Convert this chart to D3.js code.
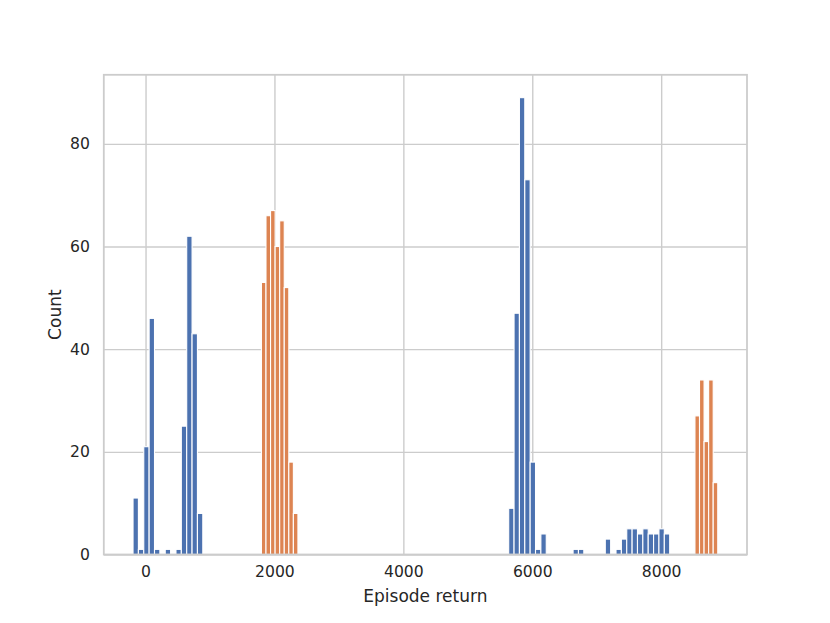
<!DOCTYPE html>
<html>
<head>
<meta charset="utf-8">
<script src="https://cdn.jsdelivr.net/npm/d3@7"></script>
<style>
  body { margin: 0; background: #fff; }
  text { font-family: "DejaVu Sans", sans-serif; fill: #262626; }
</style>
</head>
<body>
<div id="chart"></div>
<script>
// histogram data, 100 bins per series
var binTotal = 100;

var blueMin = -194, blueMax = 8132;
var blueBinIndex = [0, 1, 2, 3, 4, 6, 8, 9, 10, 11, 12,
    70, 71, 72, 73, 74, 75, 76, 82, 83,
    88, 90, 91, 92, 93, 94, 95, 96, 97, 98, 99];
var blueCounts = [11, 1, 21, 46, 1, 1, 1, 25, 62, 43, 8,
    9, 47, 89, 73, 18, 1, 4, 1, 1,
    3, 1, 3, 5, 5, 4, 5, 4, 4, 5, 4];

var orangeMin = 1798, orangeMax = 8878;
var orangeBinIndex = [0, 1, 2, 3, 4, 5, 6, 7, 95, 96, 97, 98, 99];
var orangeCounts = [53, 66, 67, 60, 65, 52, 18, 8, 27, 34, 22, 34, 14];

var xTicks = [0, 2000, 4000, 6000, 8000];
var yTicks = [0, 20, 40, 60, 80];

var xLabel = "Episode return";
var yLabel = "Count";

var svgWidth = 830;
var svgHeight = 623;

var margin = {
    top: 74.8,
    right: 83,
    bottom: 68.5,
    left: 103.8
};

var chartWidth = svgWidth - margin.left - margin.right;
var chartHeight = svgHeight - margin.top - margin.bottom;

var svg = d3.select("#chart")
    .append("svg")
    .attr("width", svgWidth)
    .attr("height", svgHeight);

var chartGroup = svg.append("g")
    .attr("transform", `translate(${margin.left},${margin.top})`);

function makeSeries(min, max, idx, counts) {
    var w = (max - min) / binTotal;
    return idx.map(function(i, k) {
        return {x0: min + i * w, x1: min + (i + 1) * w, count: counts[k]};
    });
}

var blueData = makeSeries(blueMin, blueMax, blueBinIndex, blueCounts);
var orangeData = makeSeries(orangeMin, orangeMax, orangeBinIndex, orangeCounts);

// matplotlib style 5% padding on x, 5% headroom on y
var lo = Math.min(blueMin, orangeMin), hi = Math.max(blueMax, orangeMax);
var pad = (hi - lo) * 0.05;
var yMax = d3.max(blueCounts.concat(orangeCounts)) * 1.05;

var xLinearScale = d3.scaleLinear()
    .domain([lo - pad, hi + pad])
    .range([0, chartWidth]);

var yLinearScale = d3.scaleLinear()
    .domain([0, yMax])
    .range([chartHeight, 0]);

// grid
var bottomAxis = d3.axisBottom(xLinearScale)
    .tickValues(xTicks)
    .tickFormat(d3.format("d"))
    .tickSize(-chartHeight)
    .tickPadding(11);
var leftAxis = d3.axisLeft(yLinearScale)
    .tickValues(yTicks)
    .tickFormat(d3.format("d"))
    .tickSize(-chartWidth)
    .tickPadding(14);

var xAxis = chartGroup.append("g")
    .attr("transform", `translate(0, ${chartHeight})`)
    .call(bottomAxis);
var yAxis = chartGroup.append("g")
    .call(leftAxis);

[xAxis, yAxis].forEach(function(ax) {
    ax.select(".domain").remove();
    ax.selectAll(".tick line")
        .attr("stroke", "#cccccc")
        .attr("stroke-width", 1.4);
    ax.selectAll(".tick text")
        .style("font-size", "15.6px")
        .attr("fill", "#262626");
});

function drawBars(data, color) {
    chartGroup.append("g")
        .selectAll("rect")
        .data(data)
        .enter()
        .append("rect")
        .attr("x", d => xLinearScale(d.x0))
        .attr("width", d => xLinearScale(d.x1) - xLinearScale(d.x0))
        .attr("y", d => yLinearScale(d.count))
        .attr("height", d => chartHeight - yLinearScale(d.count))
        .attr("fill", color)
        .attr("stroke", "#ffffff")
        .attr("stroke-width", 1.1);
}

drawBars(blueData, "#4c72b0");
drawBars(orangeData, "#dd8452");

// frame
chartGroup.append("rect")
    .attr("width", chartWidth)
    .attr("height", chartHeight)
    .attr("fill", "none")
    .attr("stroke", "#cccccc")
    .attr("stroke-width", 1.8);

chartGroup.append("text")
    .attr("x", chartWidth / 2)
    .attr("y", chartHeight + 47.5)
    .attr("text-anchor", "middle")
    .style("font-size", "17px")
    .text(xLabel);

chartGroup.append("text")
    .attr("transform", "rotate(-90)")
    .attr("x", -chartHeight / 2)
    .attr("y", 61 - margin.left)
    .attr("text-anchor", "middle")
    .style("font-size", "17px")
    .text(yLabel);
</script>
</body>
</html>
